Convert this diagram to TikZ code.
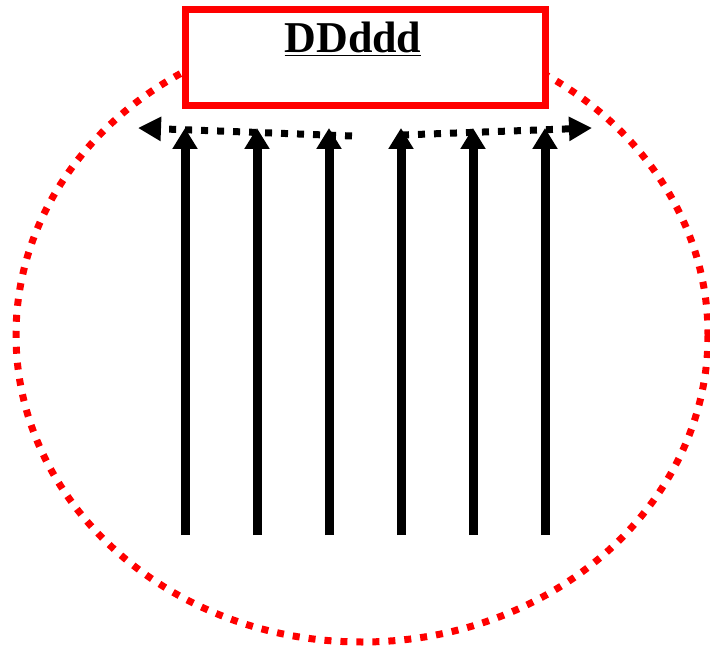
\documentclass[tikz,border=0pt]{standalone}
\usepackage{fontspec}
\setmainfont{Liberation Serif}
\usetikzlibrary{arrows.meta}

\begin{document}
\begin{tikzpicture}[x=1pt,y=-1pt,
             uparrow/.style={line width=9pt, -{Triangle[width=24pt,length=21pt]}},
             sidearrow/.style={line width=7pt, dash pattern=on 7pt off 9pt, -{Triangle[width=23pt,length=23pt]}}]
             \useasboundingbox (0,0) rectangle (710,650);
             \draw[red, line width=7pt, dash pattern=on 7pt off 9pt] (362,335) ellipse [x radius=346, y radius=307];
             \node (box) at (365,58) [draw=red, line width=7pt, fill=white, minimum width=360pt, minimum height=96pt, inner sep=0pt] {};
             \node (title) at (353,53) [anchor=base, inner sep=0pt] {\fontsize{44}{50}\selectfont\bfseries\underline{DDddd}};
             \foreach \i/\x in {1/185,2/257,3/329,4/401,5/473,6/545} {
               \coordinate (b\i) at (\x,535);
               \coordinate (t\i) at (\x,128);
               \draw[uparrow] (b\i) -- (t\i);
             }
             \coordinate (lstart) at (352,136);
             \coordinate (lend) at (138,128);
             \coordinate (rstart) at (402,135);
             \coordinate (rend) at (592,128);
             \draw[sidearrow] (lstart) -- (lend);
             \draw[sidearrow] (rstart) -- (rend);
            \end{tikzpicture}
\end{document}
